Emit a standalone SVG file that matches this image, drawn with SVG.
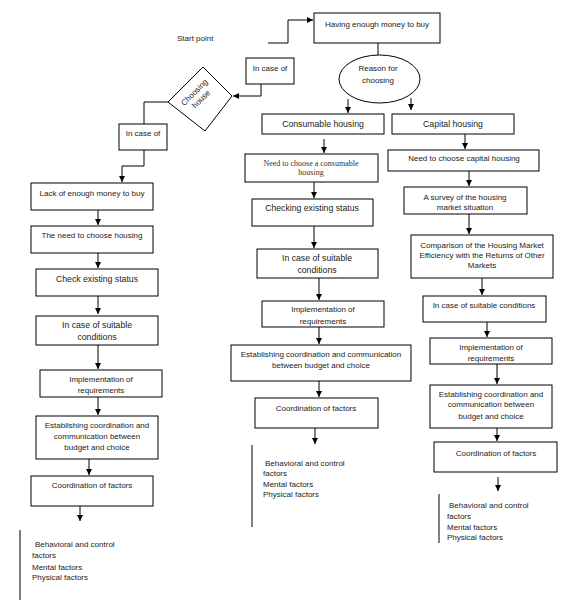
<svg xmlns="http://www.w3.org/2000/svg" width="578" height="601" viewBox="0 0 578 601">
<defs>
<marker id="ah" markerUnits="userSpaceOnUse" markerWidth="6" markerHeight="6" refX="6" refY="3" orient="auto">
<path d="M0,0 L6,3 L0,6 z" fill="#000"/>
</marker>
<style>
.b{fill:#fff;stroke:#000;stroke-width:1}
.t{font-family:"Liberation Sans",Arial,sans-serif;font-size:8px;fill:#222;text-anchor:middle}
.L{font-size:8.7px}
.s{font-family:"Liberation Serif","Times New Roman",serif;font-size:8px;fill:#333;text-anchor:middle}
.l{font-family:"Liberation Sans",Arial,sans-serif;font-size:8px;fill:#222}
.c{fill:none;stroke:#000;stroke-width:1}
.a{fill:none;stroke:#000;stroke-width:1;marker-end:url(#ah)}
</style>
</defs>
<rect width="578" height="601" fill="#fff"/>

<g id="connectors">
<polyline class="a" points="268,43 288,43 288,20 313,20"/>
<line class="c" x1="378" y1="43" x2="378" y2="55"/>
<line class="a" x1="348" y1="99" x2="348" y2="113"/>
<line class="a" x1="411" y1="98" x2="411" y2="110"/>
<polyline class="a" points="261,84 261,96 233,96"/>
<polyline class="c" points="168,102 144,102 144,124"/>
<polyline class="a" points="144,150 144,166 122,166 122,182"/>
<line class="a" x1="98" y1="210" x2="98" y2="225"/>
<line class="a" x1="98" y1="253" x2="98" y2="268"/>
<line class="a" x1="98" y1="296" x2="98" y2="314"/>
<line class="a" x1="98" y1="345" x2="98" y2="369"/>
<line class="a" x1="98" y1="397" x2="98" y2="415"/>
<line class="a" x1="89" y1="459" x2="89" y2="475"/>
<line class="a" x1="80" y1="506" x2="80" y2="521"/>
<line class="a" x1="324" y1="139" x2="324" y2="153"/>
<line class="a" x1="314" y1="182" x2="314" y2="198"/>
<line class="a" x1="314" y1="226" x2="314" y2="248"/>
<line class="a" x1="319" y1="278" x2="319" y2="300"/>
<line class="a" x1="319" y1="327" x2="319" y2="344"/>
<line class="a" x1="319" y1="381" x2="319" y2="397"/>
<line class="a" x1="315" y1="428" x2="315" y2="444"/>
<line class="a" x1="465" y1="134" x2="465" y2="149"/>
<line class="a" x1="469" y1="171" x2="469" y2="186"/>
<line class="a" x1="469" y1="214" x2="469" y2="234"/>
<line class="a" x1="482" y1="278" x2="482" y2="295"/>
<line class="a" x1="487" y1="322" x2="487" y2="337"/>
<line class="a" x1="497" y1="364" x2="497" y2="384"/>
<line class="a" x1="497" y1="428" x2="497" y2="441"/>
<line class="a" x1="498" y1="477" x2="498" y2="491"/>
</g>

<g id="start"><text class="l" x="177" y="41">Start point</text></g>
<g id="n_enough"><rect class="b" x="314" y="13" width="126" height="30"/><text class="t" x="377" y="27">Having enough money to buy</text></g>
<g id="n_reason"><ellipse class="b" cx="379.5" cy="79" rx="40.5" ry="24"/><text class="t" x="378" y="71">Reason for</text><text class="t" x="378" y="83">choosing</text></g>
<g id="n_incase1"><rect class="b" x="246" y="58" width="48" height="26"/><text class="t" x="270" y="71">In case of</text></g>
<g id="n_choosing"><polygon class="b" points="203,67 232,96 205,131 168,102"/>
<g transform="translate(198,96) rotate(-45)"><text class="t" x="0" y="-2.5">Choosing</text><text class="t" x="0" y="7">house</text></g></g>
<g id="n_incase2"><rect class="b" x="119" y="124" width="48" height="26"/><text class="t" x="143" y="136">In case of</text></g>

<g id="n_l1"><rect class="b" x="31" y="183" width="122" height="27"/><text class="t" x="92" y="196">Lack of enough money to buy</text></g>
<g id="n_l2"><rect class="b" x="31" y="226" width="122" height="27"/><text class="t" x="92" y="238">The need to choose housing</text></g>
<g id="n_l3"><rect class="b" x="36" y="269" width="122" height="27"/><text class="t L" x="97" y="282">Check existing status</text></g>
<g id="n_l4"><rect class="b" x="36" y="316" width="122" height="29"/><text class="t L" x="97" y="328">In case of suitable</text><text class="t L" x="97" y="340">conditions</text></g>
<g id="n_l5"><rect class="b" x="40" y="370" width="122" height="27"/><text class="t" x="101" y="382">Implementation of</text><text class="t" x="101" y="393">requirements</text></g>
<g id="n_l6"><rect class="b" x="36" y="416" width="122" height="43"/><text class="t" x="97" y="428">Establishing coordination and</text><text class="t" x="97" y="439">communication between</text><text class="t" x="97" y="450">budget and choice</text></g>
<g id="n_l7"><rect class="b" x="31" y="476" width="122" height="30"/><text class="t" x="92" y="488">Coordination of factors</text></g>
<g id="n_l8"><line class="c" x1="20" y1="530" x2="20" y2="600"/><text class="l" x="35" y="547">Behavioral and control</text><text class="l" x="32" y="558">factors</text><text class="l" x="32" y="570">Mental factors</text><text class="l" x="32" y="580">Physical factors</text></g>

<g id="n_m1"><rect class="b" x="262" y="114" width="122" height="20"/><text class="t L" x="323" y="127">Consumable housing</text></g>
<g id="n_m2"><rect class="b" x="245" y="154" width="133" height="28"/><text class="s" x="311" y="166">Need to choose a consumable</text><text class="s" x="311" y="175">housing</text></g>
<g id="n_m3"><rect class="b" x="252" y="199" width="121" height="27"/><text class="t L" x="312" y="211">Checking existing status</text></g>
<g id="n_m4"><rect class="b" x="257" y="249" width="121" height="29"/><text class="t L" x="317" y="261">In case of suitable</text><text class="t L" x="317" y="273">conditions</text></g>
<g id="n_m5"><rect class="b" x="262" y="301" width="122" height="26"/><text class="t" x="323" y="312">Implementation of</text><text class="t" x="323" y="324">requirements</text></g>
<g id="n_m6"><rect class="b" x="231" y="345" width="180" height="36"/><text class="t" x="321" y="357">Establishing coordination and communication</text><text class="t" x="321" y="368">between budget and choice</text></g>
<g id="n_m7"><rect class="b" x="255" y="398" width="123" height="30"/><text class="t" x="316" y="411">Coordination of factors</text></g>
<g id="n_m8"><line class="c" x1="252" y1="445" x2="252" y2="527"/><text class="l" x="265" y="466">Behavioral and control</text><text class="l" x="263" y="476">factors</text><text class="l" x="263" y="487">Mental factors</text><text class="l" x="263" y="497">Physical factors</text></g>

<g id="n_r1"><rect class="b" x="392" y="114" width="122" height="20"/><text class="t L" x="453" y="127">Capital housing</text></g>
<g id="n_r2"><rect class="b" x="388" y="150" width="151" height="21"/><text class="t" x="464" y="161">Need to choose capital housing</text></g>
<g id="n_r3"><rect class="b" x="404" y="187" width="123" height="27"/><text class="t" x="465" y="200">A survey of the housing</text><text class="t" x="465" y="210">market situation</text></g>
<g id="n_r4"><rect class="b" x="411" y="235" width="142" height="43"/><text class="t" x="482" y="248">Comparison of the Housing Market</text><text class="t" x="482" y="258">Efficiency with the Returns of Other</text><text class="t" x="482" y="268">Markets</text></g>
<g id="n_r5"><rect class="b" x="423" y="296" width="123" height="26"/><text class="t" x="484" y="308">In case of suitable conditions</text></g>
<g id="n_r6"><rect class="b" x="430" y="338" width="122" height="26"/><text class="t" x="491" y="350">Implementation of</text><text class="t" x="491" y="361">requirements</text></g>
<g id="n_r7"><rect class="b" x="430" y="385" width="122" height="43"/><text class="t" x="491" y="397">Establishing coordination and</text><text class="t" x="491" y="407">communication between</text><text class="t" x="491" y="419">budget and choice</text></g>
<g id="n_r8"><rect class="b" x="434" y="442" width="123" height="30"/><text class="t" x="496" y="456">Coordination of factors</text></g>
<g id="n_r9"><line class="c" x1="439" y1="494" x2="439" y2="543"/><text class="l" x="449" y="508">Behavioral and control</text><text class="l" x="447" y="519">factors</text><text class="l" x="447" y="530">Mental factors</text><text class="l" x="447" y="540">Physical factors</text></g>
</svg>
